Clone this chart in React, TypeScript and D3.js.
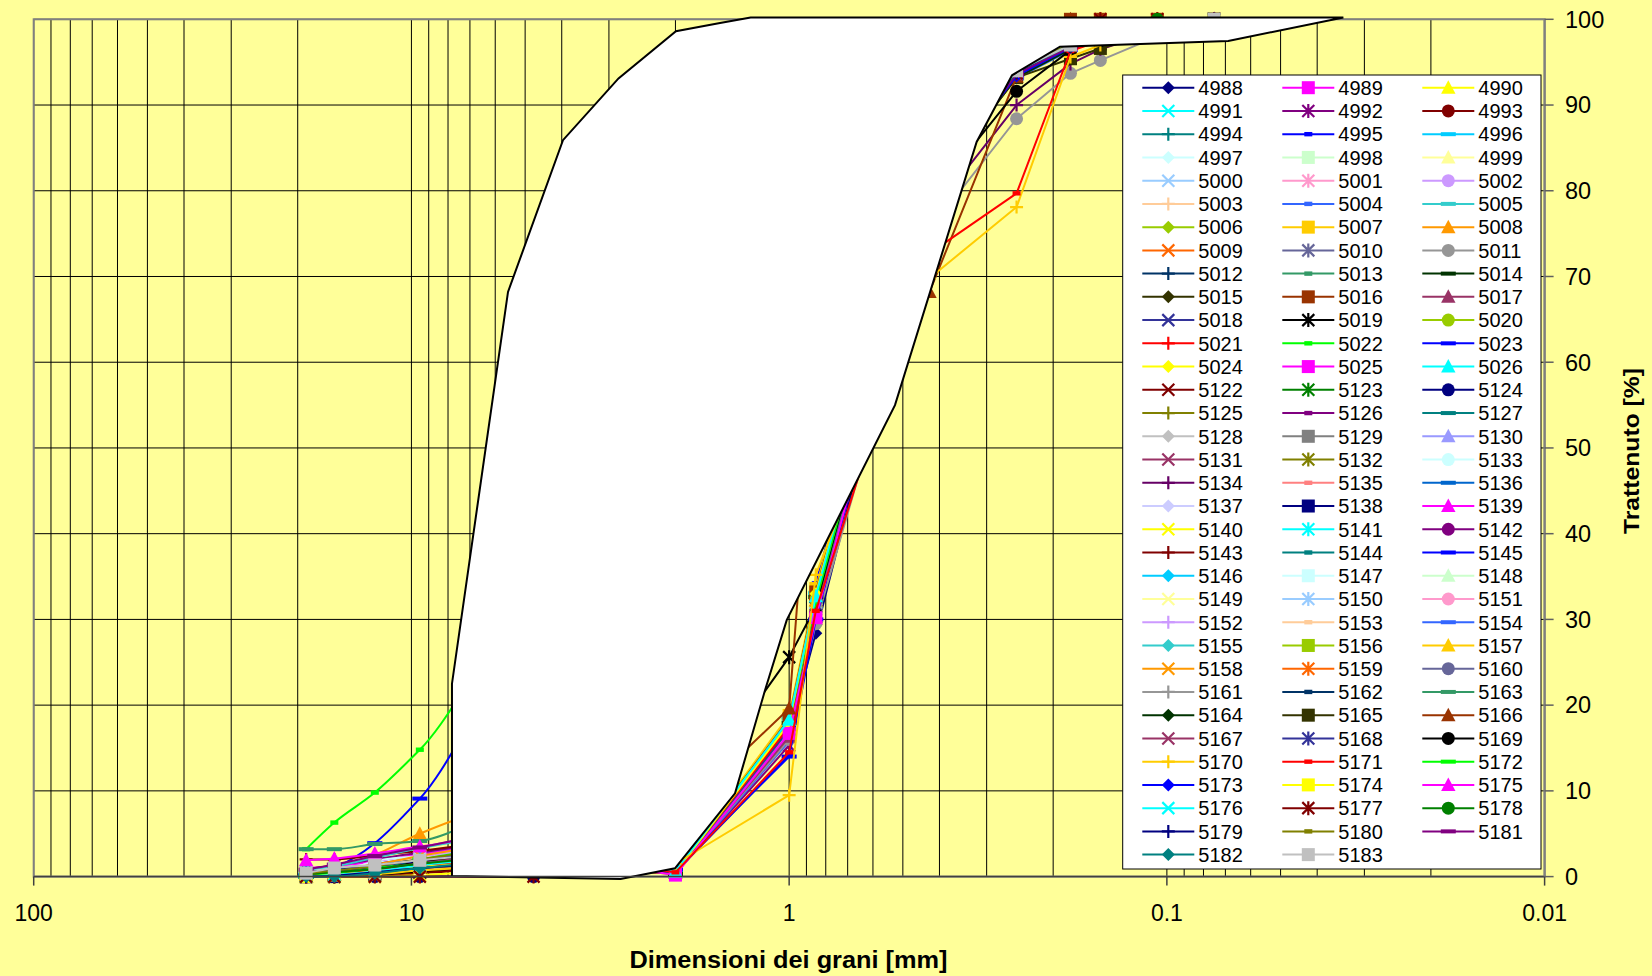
import React from "react";
import * as d3 from "d3";

// ---------------- DATA ----------------
// Sieve openings (mm), from coarse to fine
const SIEVES_MM = [19, 16, 12.5, 9.5, 4.75, 2, 1, 0.85, 0.425, 0.25, 0.18, 0.15, 0.106, 0.075];

const SERIES_NAMES = [
  "4988", "4989", "4990", "4991", "4992", "4993", "4994", "4995", "4996", "4997",
  "4998", "4999", "5000", "5001", "5002", "5003", "5004", "5005", "5006", "5007",
  "5008", "5009", "5010", "5011", "5012", "5013", "5014", "5015", "5016", "5017",
  "5018", "5019", "5020", "5021", "5022", "5023", "5024", "5025", "5026",
  "5122", "5123", "5124", "5125", "5126", "5127", "5128", "5129", "5130", "5131",
  "5132", "5133", "5134", "5135", "5136", "5137", "5138", "5139", "5140", "5141",
  "5142", "5143", "5144", "5145", "5146", "5147", "5148", "5149", "5150", "5151",
  "5152", "5153", "5154", "5155", "5156", "5157", "5158", "5159", "5160", "5161",
  "5162", "5163", "5164", "5165", "5166", "5167", "5168", "5169", "5170", "5171",
  "5172", "5173", "5174", "5175", "5176", "5177", "5178", "5179", "5180", "5181",
  "5182", "5183",
];

// Retained % at each sieve (same order as SIEVES_MM), one row per series
const RETAINED: number[][] = [
  [0, 0, 0.3, 0.8, 1.5, 0.4, 17.0, 28.4, 80.5, 94.0, 97.0, 98.0, 99.3, 100], // 4988
  [0, 0.2, 0.6, 1.2, 2.2, 0.2, 16.9, 30.1, 81.0, 94.3, 97.2, 98.2, 99.4, 100], // 4989
  [0, 0, 0.4, 1.0, 1.8, 0.6, 18.1, 33.4, 82.5, 94.6, 97.4, 98.4, 99.5, 100], // 4990
  [0.3, 0.5, 0.9, 1.6, 2.8, 0.5, 17.8, 32.0, 81.5, 94.2, 97.1, 98.1, 99.2, 100], // 4991
  [0, 0.3, 0.8, 1.4, 2.4, 0.4, 15.3, 30.0, 79.5, 93.6, 96.9, 97.9, 99.0, 99.8], // 4992
  [0, 0, 0.2, 0.5, 1.0, 0.3, 16.5, 31.2, 80.8, 94.1, 97.3, 98.3, 99.4, 100], // 4993
  [0.5, 0.8, 1.3, 2.0, 3.2, 0.7, 17.2, 31.5, 81.2, 94.4, 97.5, 98.5, 99.6, 100], // 4994
  [0, 0.1, 0.5, 1.1, 2.0, 0.5, 14.2, 34.2, 82.0, 94.0, 97.0, 98.0, 99.1, 100], // 4995
  [0.2, 0.4, 0.8, 1.3, 2.3, 0.6, 18.6, 33.0, 82.2, 94.5, 97.3, 98.2, 99.3, 100], // 4996
  [0, 0.2, 0.7, 1.5, 2.6, 0.4, 17.4, 31.8, 81.0, 93.9, 96.9, 98.0, 99.2, 100], // 4997
  [0.4, 0.7, 1.1, 1.8, 3.0, 0.5, 16.8, 30.8, 80.2, 93.8, 96.8, 97.9, 99.0, 99.9], // 4998
  [0, 0, 0.3, 0.7, 1.4, 0.3, 17.6, 32.4, 81.8, 94.2, 97.2, 98.2, 99.3, 100], // 4999
  [0.6, 1.0, 1.6, 2.4, 3.8, 0.8, 17.9, 31.9, 81.4, 94.0, 97.0, 98.1, 99.2, 100], // 5000
  [0, 0.3, 0.9, 1.7, 2.9, 0.4, 16.2, 30.4, 80.0, 93.7, 96.9, 97.9, 99.1, 99.9], // 5001
  [0.2, 0.5, 1.0, 1.9, 3.3, 0.6, 18.2, 32.8, 82.4, 94.3, 97.2, 98.3, 99.4, 100], // 5002
  [0.8, 1.1, 1.5, 2.2, 3.4, 0.9, 17.0, 31.0, 80.6, 93.9, 97.0, 98.0, 99.2, 100], // 5003
  [0, 0.2, 0.6, 1.2, 2.1, 0.4, 15.8, 30.6, 79.8, 93.6, 96.8, 97.8, 99.0, 99.8], // 5004
  [0.5, 0.9, 1.4, 2.6, 4.2, 0.7, 18.3, 33.1, 82.6, 94.7, 97.5, 98.5, 99.6, 100], // 5005
  [0, 0.4, 1.0, 1.8, 3.1, 0.5, 17.3, 31.6, 81.1, 94.1, 97.1, 98.1, 99.2, 100], // 5006
  [0.3, 0.6, 1.2, 2.1, 3.6, 0.8, 18.8, 33.6, 83.0, 94.8, 97.6, 98.6, 99.7, 100], // 5007
  [0, 0.8, 2.5, 5.0, 8.5, 1.0, 17.7, 32.2, 81.7, 94.2, 97.2, 98.2, 99.3, 100], // 5008
  [0.4, 0.6, 1.1, 1.9, 3.2, 0.6, 16.4, 30.5, 80.1, 93.8, 96.9, 97.9, 99.1, 100], // 5009
  [0, 0.3, 0.7, 1.3, 2.3, 0.4, 17.1, 31.4, 80.9, 94.0, 97.0, 98.0, 99.2, 100], // 5010
  [0, 0.2, 0.6, 1.0, 1.8, 0.5, 16.0, 29.5, 75.4, 88.4, 93.7, 95.2, 98.0, 99.5], // 5011
  [0.2, 0.4, 0.9, 1.6, 2.7, 0.5, 17.5, 32.0, 81.3, 94.1, 97.1, 98.1, 99.3, 100], // 5012
  [0.7, 1.0, 1.4, 2.0, 3.0, 0.6, 16.6, 30.9, 80.4, 93.5, 96.7, 97.8, 99.0, 99.9], // 5013
  [0, 0.1, 0.4, 0.9, 1.7, 0.3, 17.9, 32.6, 81.9, 94.3, 97.3, 98.3, 99.4, 100], // 5014
  [0.3, 0.5, 1.0, 1.7, 2.9, 0.6, 18.0, 32.5, 82.1, 94.4, 97.4, 98.4, 99.5, 100], // 5015
  [0, 0.2, 0.5, 1.0, 1.9, 0.7, 18.4, 33.2, 82.7, 94.6, 100, 100, 100, 100], // 5016
  [0.5, 0.7, 1.2, 2.0, 3.3, 0.5, 16.3, 30.3, 79.9, 93.7, 96.9, 97.9, 99.1, 100], // 5017
  [0, 0.3, 0.8, 1.5, 2.6, 0.4, 17.2, 31.7, 81.2, 94.0, 97.0, 98.0, 99.2, 100], // 5018
  [0, 0, 0.2, 0.6, 2.0, 7.0, 25.6, 31.5, 82.0, 94.2, 97.2, 98.2, 99.3, 100], // 5019
  [0.2, 0.5, 0.9, 1.5, 2.5, 0.5, 17.6, 32.3, 81.6, 94.1, 97.1, 98.1, 99.2, 100], // 5020
  [0, 0.2, 0.6, 1.1, 2.0, 0.6, 17.5, 32.3, 81.0, 93.3, 96.5, 97.6, 98.9, 99.8], // 5021
  [3.2, 6.3, 9.8, 14.8, 30.0, 1.2, 18.0, 32.0, 81.5, 94.0, 97.0, 98.0, 99.0, 100], // 5022
  [0, 1.0, 3.9, 9.1, 26.0, 0.8, 14.0, 30.0, 80.0, 93.6, 96.8, 97.8, 99.0, 100], // 5023
  [0.1, 0.4, 0.8, 1.4, 2.4, 0.5, 17.9, 33.0, 82.3, 94.4, 97.3, 98.3, 99.4, 100], // 5024
  [0, 0.2, 0.5, 1.0, 1.8, 0.2, 16.7, 30.2, 80.3, 93.8, 97.0, 98.0, 99.1, 100], // 5025
  [0.3, 0.6, 1.0, 1.7, 2.8, 0.6, 18.3, 32.7, 82.0, 94.3, 97.2, 98.2, 99.3, 100], // 5026
  [0, 0, 0, 0.4, 1.2, 3.0, 35.0, 44.0, 80.1, 93.7, 96.9, 97.9, 99.0, 99.9], // 5122
  [0.4, 0.7, 1.2, 2.2, 3.7, 3.5, 36.0, 45.5, 80.7, 93.9, 97.0, 98.0, 99.2, 100], // 5123
  [0, 0, 0, 0, 0, 2.8, 34.0, 42.0, 79.6, 93.5, 96.8, 97.9, 99.0, 99.9], // 5124
  [0.2, 0.5, 1.0, 1.8, 3.0, 3.2, 37.0, 46.0, 81.4, 94.1, 97.1, 98.1, 99.3, 100], // 5125
  [0.6, 1.0, 1.5, 2.3, 3.8, 4.0, 38.0, 47.5, 81.6, 94.2, 97.2, 98.2, 99.3, 100], // 5126
  [0, 0.2, 0.6, 1.2, 2.2, 3.0, 35.5, 44.5, 80.5, 93.8, 96.9, 97.9, 99.1, 100], // 5127
  [0.3, 0.6, 1.0, 1.6, 2.6, 3.4, 36.5, 45.0, 81.0, 94.0, 97.0, 98.0, 99.2, 100], // 5128
  [0, 0.3, 0.8, 1.4, 2.4, 3.1, 37.5, 46.5, 81.7, 94.2, 97.2, 98.2, 99.3, 100], // 5129
  [0.5, 0.8, 1.3, 2.1, 3.5, 3.8, 38.5, 48.0, 82.2, 94.4, 97.4, 98.4, 99.5, 100], // 5130
  [0, 0.1, 0.4, 0.9, 1.7, 2.6, 34.5, 43.0, 79.7, 93.6, 96.8, 97.8, 99.0, 99.9], // 5131
  [0.2, 0.4, 0.8, 1.3, 2.2, 3.2, 36.0, 45.0, 80.6, 93.9, 97.0, 98.0, 99.1, 100], // 5132
  [0.7, 1.1, 1.7, 2.5, 4.0, 4.2, 39.0, 49.0, 82.8, 94.6, 97.5, 98.5, 99.6, 100], // 5133
  [0, 0.2, 0.6, 1.1, 1.9, 2.9, 34.0, 42.5, 77.0, 90.0, 94.8, 96.5, 98.6, 99.8], // 5134
  [0.4, 0.6, 1.1, 1.8, 3.0, 3.5, 36.5, 45.5, 81.1, 94.0, 97.0, 98.0, 99.2, 100], // 5135
  [0, 0.3, 0.7, 1.3, 2.3, 3.0, 37.0, 46.0, 81.8, 93.4, 96.6, 97.7, 98.9, 99.8], // 5136
  [0.2, 0.5, 0.9, 1.6, 2.7, 3.3, 35.5, 44.0, 80.8, 93.2, 96.5, 97.6, 98.9, 99.8], // 5137
  [0, 0, 0.3, 0.8, 1.5, 2.7, 34.5, 43.5, 80.0, 93.7, 96.9, 97.9, 99.0, 100], // 5138
  [1.0, 1.2, 1.8, 2.6, 4.0, 3.6, 36.0, 45.0, 81.3, 94.1, 97.1, 98.1, 99.3, 100], // 5139
  [0, 0, 0, 0.2, 0.9, 2.5, 38.0, 47.0, 82.3, 94.4, 97.3, 98.3, 99.4, 100], // 5140
  [0.3, 0.6, 1.1, 1.9, 3.1, 3.4, 36.5, 45.5, 80.9, 93.9, 97.0, 98.0, 99.2, 100], // 5141
  [0.9, 1.3, 2.0, 2.8, 4.3, 4.4, 35.0, 44.0, 80.2, 93.3, 96.6, 97.7, 98.9, 99.8], // 5142
  [2.0, 2.0, 2.5, 3.0, 4.5, 4.6, 37.0, 46.0, 81.0, 94.0, 97.0, 98.0, 99.2, 100], // 5143
  [0, 0.1, 0.5, 1.0, 1.8, 2.8, 34.5, 43.0, 79.9, 93.6, 96.8, 97.8, 99.0, 99.9], // 5144
  [0.2, 0.4, 0.8, 1.4, 2.4, 3.0, 33.5, 42.0, 79.8, 93.5, 96.8, 97.8, 99.0, 99.9], // 5145
  [0.4, 0.7, 1.2, 2.0, 3.3, 3.6, 39.5, 49.5, 82.9, 94.7, 97.5, 98.5, 99.6, 100], // 5146
  [0, 0.3, 1.8, 2.4, 3.6, 3.7, 37.0, 46.0, 81.5, 94.1, 97.1, 98.1, 99.3, 100], // 5147
  [0.3, 0.5, 0.9, 1.5, 2.5, 3.2, 37.5, 46.5, 81.9, 94.3, 97.3, 98.3, 99.4, 100], // 5148
  [0, 0.1, 0.4, 0.8, 1.5, 2.6, 35.0, 44.0, 80.4, 93.8, 96.9, 97.9, 99.1, 100], // 5149
  [0.5, 0.8, 1.3, 2.0, 3.3, 3.5, 36.0, 45.0, 81.0, 94.0, 97.0, 98.0, 99.2, 100], // 5150
  [0, 0.2, 0.6, 1.2, 2.1, 2.9, 34.5, 43.5, 80.2, 93.7, 96.9, 97.9, 99.0, 99.9], // 5151
  [0.3, 0.6, 1.2, 2.2, 3.7, 3.9, 38.0, 47.5, 82.1, 94.4, 97.4, 98.4, 99.5, 100], // 5152
  [0.6, 0.9, 1.4, 2.1, 3.4, 3.6, 36.0, 45.0, 80.8, 93.9, 97.0, 98.0, 99.2, 100], // 5153
  [0, 0.2, 0.5, 1.0, 1.9, 2.8, 36.5, 45.5, 81.4, 93.1, 96.4, 97.6, 98.9, 99.8], // 5154
  [0.8, 1.2, 2.2, 3.3, 5.0, 5.0, 38.0, 47.0, 82.0, 94.3, 97.3, 98.3, 99.4, 100], // 5155
  [0, 0.3, 0.7, 1.3, 2.3, 3.0, 35.5, 44.5, 80.6, 93.8, 97.0, 98.0, 99.1, 100], // 5156
  [0.2, 0.4, 0.9, 1.7, 2.9, 3.3, 37.0, 46.0, 81.7, 94.2, 97.2, 98.2, 99.3, 100], // 5157
  [0.4, 0.8, 1.4, 2.4, 4.0, 4.1, 36.0, 45.0, 80.9, 93.9, 97.0, 98.0, 99.2, 100], // 5158
  [0, 0.2, 0.8, 1.8, 3.5, 3.6, 35.0, 44.0, 80.3, 93.7, 96.9, 100, 100, 100], // 5159
  [0.3, 0.5, 1.0, 1.6, 2.7, 3.2, 37.0, 46.5, 81.6, 94.1, 97.1, 98.1, 99.3, 100], // 5160
  [0, 0.1, 0.4, 0.9, 1.7, 2.7, 35.5, 44.5, 80.5, 93.8, 96.9, 97.9, 99.1, 100], // 5161
  [0.5, 0.8, 1.3, 2.0, 3.2, 3.4, 36.5, 45.5, 81.1, 94.0, 97.0, 98.0, 99.2, 100], // 5162
  [3.2, 3.2, 3.8, 4.15, 8.5, 5.5, 38.0, 47.0, 81.8, 94.2, 97.2, 98.2, 99.3, 100], // 5163
  [0, 0.2, 0.6, 1.1, 2.0, 2.9, 34.5, 43.5, 80.0, 93.2, 96.5, 97.6, 98.8, 99.7], // 5164
  [0.2, 0.4, 0.8, 1.4, 2.4, 3.1, 35.5, 44.5, 80.0, 93.2, 95.4, 96.6, 98.5, 100], // 5165
  [0, 0.2, 0.5, 1.0, 1.8, 7.0, 19.6, 60.0, 68.2, 93.3, 100, 100, 100, 100], // 5166
  [0.2, 0.5, 1.0, 1.7, 2.8, 3.3, 35.0, 44.0, 79.8, 93.6, 96.8, 97.8, 99.0, 99.9], // 5167
  [0, 0.3, 0.7, 1.2, 2.1, 2.9, 37.0, 46.0, 81.5, 94.1, 97.1, 98.1, 99.3, 100], // 5168
  [0.3, 0.6, 1.1, 1.8, 3.0, 3.4, 35.0, 44.0, 79.0, 91.6, 96.4, 97.5, 99.0, 100], // 5169
  [0, 0.1, 0.3, 0.7, 1.3, 1.5, 9.5, 35.2, 69.8, 78.1, 95.6, 97.0, 98.8, 100], // 5170
  [0.1, 0.3, 0.7, 1.2, 2.1, 0.5, 14.5, 31.0, 72.7, 79.7, 96.3, 97.5, 99.0, 100], // 5171
  [0, 0.4, 1.0, 2.0, 3.5, 3.4, 37.5, 46.5, 81.6, 94.1, 97.1, 98.1, 99.3, 100], // 5172
  [0.5, 0.7, 1.2, 1.9, 3.1, 3.2, 34.0, 43.0, 80.1, 93.4, 96.7, 97.7, 98.9, 99.8], // 5173
  [0, 0.2, 0.6, 1.1, 2.0, 2.8, 38.0, 47.5, 82.4, 94.4, 97.3, 98.3, 99.4, 100], // 5174
  [1.9, 2.1, 2.7, 3.5, 5.2, 5.0, 36.0, 45.0, 80.9, 93.9, 97.0, 98.0, 99.2, 100], // 5175
  [0, 0.2, 0.6, 1.3, 2.4, 3.0, 38.5, 48.0, 82.6, 94.5, 97.4, 98.4, 99.5, 100], // 5176
  [0, 0, 0, 0, 0, 2.6, 35.5, 44.5, 80.3, 93.7, 96.9, 100, 100, 100], // 5177
  [0.3, 0.5, 0.9, 1.5, 2.6, 3.2, 36.0, 45.0, 81.0, 94.0, 97.0, 98.0, 100, 100], // 5178
  [0, 0.1, 0.5, 1.0, 1.8, 2.7, 35.0, 44.0, 80.6, 93.8, 96.9, 97.9, 99.1, 100], // 5179
  [0.4, 0.7, 1.2, 2.0, 3.4, 3.5, 37.0, 46.0, 81.5, 94.1, 97.1, 100, 100, 100], // 5180
  [0.8, 1.4, 2.4, 3.4, 5.5, 5.6, 34.5, 43.5, 80.0, 93.6, 96.8, 97.8, 99.0, 99.9], // 5181
  [0, 0, 0.4, 1.0, 2.0, 2.9, 36.0, 45.0, 80.8, 93.9, 97.0, 98.0, 99.2, 100], // 5182
  [0.4, 1.0, 1.35, 1.9, 3.0, 3.5, 36.5, 45.5, 81.2, 94.0, 97.0, 98.0, 99.5, 100], // 5183
];

// Reference envelope (white band) vertices: grain size (mm) and retained (%)
const ENVELOPE_MM = [1.264, 1.524, 1.994, 2.83, 3.97, 5.55, 7.81, 7.81, 2.795, 2.006, 1.391, 1.158, 1.015, 0.5246, 0.3189, 0.257, 0.1919, 0.0688, 0.0341];
const ENVELOPE_PCT = [100.2, 99.57, 98.6, 93.1, 85.9, 68.2, 22.5, 0.07, -0.28, 0.97, 9.71, 21.76, 29.92, 54.99, 85.69, 93.47, 96.8, 97.47, 100.2];

const X_TICKS = [100, 10, 1, 0.1, 0.01];
const X_TICK_LABELS = ["100", "10", "1", "0.1", "0.01"];
const Y_TICKS = [0, 10, 20, 30, 40, 50, 60, 70, 80, 90, 100];
const X_TITLE = "Dimensioni dei grani [mm]";
const Y_TITLE = "Trattenuto [%]";

// ---------------- STYLE ----------------
const COLOR_CYCLE = [
  "#000080", "#FF00FF", "#FFFF00", "#00FFFF", "#800080", "#800000", "#008080", "#0000FF",
  "#00CCFF", "#CCFFFF", "#CCFFCC", "#FFFF99", "#99CCFF", "#FF99CC", "#CC99FF", "#FFCC99",
  "#3366FF", "#33CCCC", "#99CC00", "#FFCC00", "#FF9900", "#FF6600", "#666699", "#969696",
  "#003366", "#339966", "#003300", "#333300", "#993300", "#993366", "#333399", "#000000",
  "#FFFFFF", "#FF0000", "#00FF00", "#0000FF", "#FFFF00", "#FF00FF", "#00FFFF", "#800000",
  "#008000", "#000080", "#808000", "#800080", "#008080", "#C0C0C0", "#808080", "#9999FF",
  "#993366", "#FFFFCC", "#CCFFFF", "#660066", "#FF8080", "#0066CC", "#CCCCFF",
];
const COLOR_OVERRIDES: Record<string, string> = { "5020": "#99CC00", "5132": "#808000", "5170": "#FFCC00" };

const W = 1652;
const H = 976;
const PL = 33.7, PR = 1544.6, PT = 19.3, PB = 876.6;
const FONT = "'Liberation Sans', Arial, Helvetica, sans-serif";
const SMOOTH_UNTIL = 6; // coarse part drawn smoothed

function Marker({ shape, x, y, color }: { shape: number; x: number; y: number; color: string }) {
  switch (shape) {
    case 0:
      return <path d={`M${x},${y - 6.5}L${x + 6.5},${y}L${x},${y + 6.5}L${x - 6.5},${y}Z`} fill={color} />;
    case 1:
      return <rect x={x - 6.5} y={y - 6.5} width={13} height={13} fill={color} />;
    case 2:
      return <path d={`M${x},${y - 7.5}L${x + 7.2},${y + 6}L${x - 7.2},${y + 6}Z`} fill={color} />;
    case 3:
      return <path d={`M${x - 6},${y - 6}L${x + 6},${y + 6}M${x - 6},${y + 6}L${x + 6},${y - 6}`} stroke={color} strokeWidth={2.2} fill="none" />;
    case 4:
      return (
        <path
          d={`M${x - 6},${y - 6}L${x + 6},${y + 6}M${x - 6},${y + 6}L${x + 6},${y - 6}M${x},${y - 7}L${x},${y + 7}`}
          stroke={color}
          strokeWidth={2.2}
          fill="none"
        />
      );
    case 5:
      return <circle cx={x} cy={y} r={6.5} fill={color} />;
    case 6:
      return <path d={`M${x - 6.5},${y}L${x + 6.5},${y}M${x},${y - 6.5}L${x},${y + 6.5}`} stroke={color} strokeWidth={2.2} fill="none" />;
    case 7:
      return <rect x={x - 4} y={y - 2.2} width={8} height={4.4} fill={color} />;
    default:
      return <rect x={x - 7.5} y={y - 2} width={15} height={4} fill={color} />;
  }
}

export default function App() {
  const x = d3.scaleLog().domain([100, 0.01]).range([PL, PR]);
  const y = d3.scaleLinear().domain([0, 100]).range([PB, PT]);

  const smoothLine = d3
    .line<[number, number]>()
    .x((d) => x(d[0]))
    .y((d) => y(d[1]))
    .curve(d3.curveMonotoneX);

  const straightLine = d3
    .line<[number, number]>()
    .x((d) => x(d[0]))
    .y((d) => y(d[1]));

  const colors = SERIES_NAMES.map((n, i) => COLOR_OVERRIDES[n] ?? COLOR_CYCLE[i % COLOR_CYCLE.length]);
  const shapes = SERIES_NAMES.map((_, i) => i % 9);

  const vGrid: number[] = [];
  for (let k = -2; k <= 1; k++) {
    for (let m = 1; m <= 9; m++) vGrid.push(m * Math.pow(10, k));
  }
  vGrid.push(100);

  const envPts: [number, number][] = ENVELOPE_MM.map((m, i) => [m, ENVELOPE_PCT[i]]);

  const LX = 1122.7, LY = 75, LW = 418.3, LH = 794;
  const row0 = 87.7, dy = 23.24;
  const cols = [1142.3, 1282.3, 1422.3];

  return (
    <div style={{ position: "absolute", left: 0, top: 0, width: W, height: H }}>
      <svg width={W} height={H} viewBox={`0 0 ${W} ${H}`} style={{ display: "block" }}>
        <rect x={0} y={0} width={W} height={H} fill="#FFFF99" />
        <defs>
          <clipPath id="plotclip">
            <rect x={PL - 8} y={PT - 10} width={PR - PL + 16} height={PB - PT + 20} />
          </clipPath>
        </defs>

        <g stroke="#000" strokeWidth={1}>
          {vGrid.map((v, i) => (
            <line key={"vg" + i} x1={x(v)} x2={x(v)} y1={PT} y2={PB} />
          ))}
          {Y_TICKS.map((t) => (
            <line key={"hg" + t} x1={PL} x2={PR} y1={y(t)} y2={y(t)} />
          ))}
        </g>

        <rect x={PL} y={PT} width={PR - PL} height={PB - PT} fill="none" stroke="#808080" strokeWidth={2} />

        <g clipPath="url(#plotclip)">
          {RETAINED.map((vals, si) => {
            const pts: [number, number][] = SIEVES_MM.map((m, j) => [m, vals[j]]);
            const d =
              (smoothLine(pts.slice(0, SMOOTH_UNTIL)) || "") +
              (straightLine(pts.slice(SMOOTH_UNTIL - 1)) || "");
            return (
              <g key={"s" + si}>
                <path d={d} fill="none" stroke={colors[si]} strokeWidth={2} strokeLinejoin="round" />
                {pts.map((p, j) => (
                  <Marker key={j} shape={shapes[si]} x={x(p[0])} y={y(p[1])} color={colors[si]} />
                ))}
              </g>
            );
          })}
        </g>

        <path d={(straightLine(envPts) || "") + "Z"} fill="#FFFFFF" stroke="#000" strokeWidth={2} strokeLinejoin="miter" />

        <line x1={PL} x2={PR} y1={PB} y2={PB} stroke="#404040" strokeWidth={1.5} />
        <line x1={PR} x2={PR} y1={PT} y2={PB} stroke="#808080" strokeWidth={2} />
        {X_TICKS.map((t, i) => (
          <g key={"xt" + i}>
            <line x1={x(t)} x2={x(t)} y1={PB} y2={PB + 9} stroke="#404040" strokeWidth={1.5} />
            <text x={x(t)} y={921} textAnchor="middle" fontFamily={FONT} fontSize={23} fill="#000">
              {X_TICK_LABELS[i]}
            </text>
          </g>
        ))}
        {Y_TICKS.map((t) => (
          <g key={"yt" + t}>
            <line x1={PR} x2={PR + 9} y1={y(t)} y2={y(t)} stroke="#606060" strokeWidth={1.5} />
            <text x={1565} y={y(t) + 8.3} textAnchor="start" fontFamily={FONT} fontSize={23.5} fill="#000">
              {String(t)}
            </text>
          </g>
        ))}

        <text
          x={788.5}
          y={968}
          textAnchor="middle"
          fontFamily={FONT}
          fontWeight="bold"
          fontSize={23}
          textLength={318}
          lengthAdjust="spacingAndGlyphs"
          fill="#000"
        >
          {X_TITLE}
        </text>
        <text
          transform={`translate(1639,451) rotate(-90)`}
          x={0}
          y={0}
          textAnchor="middle"
          fontFamily={FONT}
          fontWeight="bold"
          fontSize={22}
          textLength={166}
          lengthAdjust="spacingAndGlyphs"
          fill="#000"
        >
          {Y_TITLE}
        </text>

        <rect x={LX} y={LY} width={LW} height={LH} fill="#FFFFFF" stroke="#000" strokeWidth={1} />
        {SERIES_NAMES.map((n, i) => {
          const r = Math.floor(i / 3);
          const c = i % 3;
          const cx = cols[c];
          const cy = row0 + r * dy;
          return (
            <g key={"lg" + i}>
              <line x1={cx} x2={cx + 52} y1={cy} y2={cy} stroke={colors[i]} strokeWidth={2} />
              <Marker shape={shapes[i]} x={cx + 26} y={cy} color={colors[i]} />
              <text x={cx + 56} y={cy + 7.3} fontFamily={FONT} fontSize={20} fill="#000">
                {n}
              </text>
            </g>
          );
        })}
      </svg>
    </div>
  );
}
